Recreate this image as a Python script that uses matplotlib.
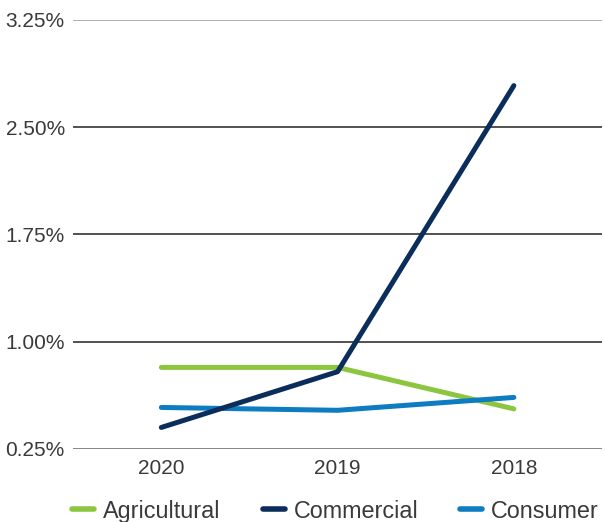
import matplotlib
matplotlib.use("Agg")
import matplotlib.pyplot as plt
from matplotlib.ticker import FuncFormatter

years = ["2020", "2019", "2018"]
agricultural = [0.82, 0.82, 0.53]
commercial = [0.40, 0.79, 2.79]
consumer = [0.54, 0.52, 0.61]
y_ticks = [0.25, 1.00, 1.75, 2.50, 3.25]

plt.rcParams['font.family'] = ['Liberation Sans', 'DejaVu Sans']

fig = plt.figure(figsize=(6.05, 5.22), dpi=100)
ax = fig.add_axes([0.121, 0.14, 0.874, 0.822])

x = list(range(len(years)))
lw = 3.6
lines = []
lines += ax.plot(x, agricultural, color="#8CC63F", lw=lw, solid_capstyle="round", solid_joinstyle="round", label="Agricultural", zorder=3)
lines += ax.plot(x, commercial, color="#0B2D5B", lw=lw, solid_capstyle="round", solid_joinstyle="round", label="Commercial", zorder=4)
lines += ax.plot(x, consumer, color="#0D7CC1", lw=lw, solid_capstyle="round", solid_joinstyle="round", label="Consumer", zorder=3)

grid_colors = ["#666666", "#222222", "#222222", "#222222", "#999999"]
for t, c in zip(y_ticks, grid_colors):
    ax.axhline(t, color=c, lw=1.1, zorder=1)

ax.set_xlim(-0.5, 2.5)
ax.set_ylim(0.25, 3.25)
ax.set_xticks(x)
ax.set_xticklabels(years)
ax.set_yticks(y_ticks)
ax.yaxis.set_major_formatter(FuncFormatter(lambda v, p: f"{v:.2f}%"))
ax.tick_params(axis="both", length=0, labelsize=15, labelcolor="#3a3a3a")
ax.tick_params(axis="y", pad=6)
ax.tick_params(axis="x", pad=7)
for s in ax.spines.values():
    s.set_visible(False)

legend_x = [72, 263, 460]
for ln, lx in zip(lines, legend_x):
    leg = fig.legend(handles=[ln], loc="center left", bbox_to_anchor=(lx / 605, 0.021),
                     frameon=False, fontsize=16.8, handlelength=0.95, handletextpad=0.38,
                     borderpad=0, borderaxespad=0, labelcolor="#3a3a3a")
    for h in leg.get_lines():
        h.set_linewidth(4)
        h.set_solid_capstyle("round")

fig.savefig("out.png", dpi=100)
